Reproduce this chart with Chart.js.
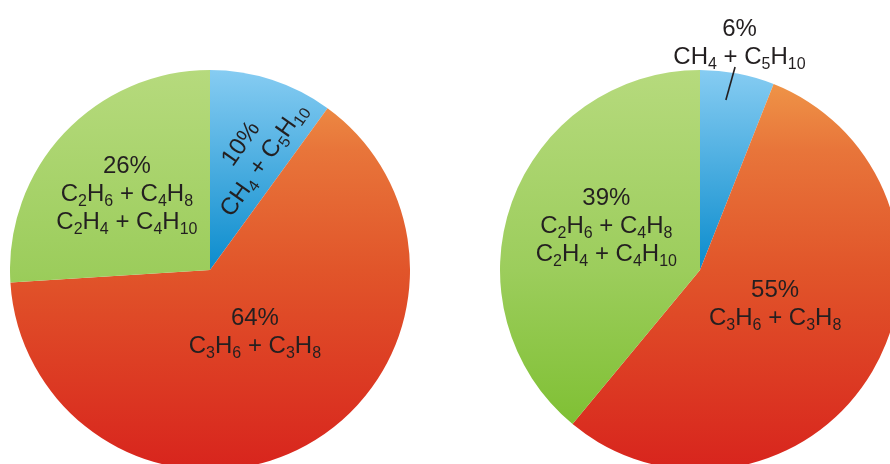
<!DOCTYPE html>
<html>
<head>
<meta charset="utf-8">
<script src="https://cdn.jsdelivr.net/npm/chart.js@4/dist/chart.umd.min.js"></script>
<style>
  html, body { margin: 0; padding: 0; background: #ffffff; }
  #stage { position: relative; width: 890px; height: 464px; overflow: hidden; background: #ffffff; }
  .pie { position: absolute; }
  #pieLeft { left: 10px; top: 70px; width: 400px; height: 400px; }
  #pieRight { left: 500px; top: 0px; width: 400px; height: 470px; }
</style>
</head>
<body>
<div id="stage">
  <div class="pie" id="pieLeft"><canvas id="cLeft" width="400" height="400"></canvas></div>
  <div class="pie" id="pieRight"><canvas id="cRight" width="400" height="470"></canvas></div>
</div>
<script>
// Fraction groups (slice order: clockwise from 12 o'clock)
const groupLines = [
  ['CH4 + C5H10'],
  ['C3H6 + C3H8'],
  ['C2H6 + C4H8', 'C2H4 + C4H10']
];
const leftShares = [10, 64, 26];
const rightShares = [6, 55, 39];

// Vertical gradient stops for each group
const gradientStops = [
  [[0, '#86ccf2'], [0.5, '#0b8ccd']],
  [[0, '#f09a4a'], [0.2, '#e8753a'], [0.5, '#e1552a'], [1, '#d8241d']],
  [[0, '#b6da7d'], [0.5, '#9ccd5c'], [1, '#77bc28']]
];

// Label placement: angle shift (deg) from slice mid-angle, distance as fraction of radius,
// rotation (deg), and optional leader line (inner/outer radius fractions).
const leftLabelPlacement = [
  { shift: 1, frac: 0.63, rotate: -55 },
  { shift: -8, frac: 0.375, rotate: 0 },
  { shift: 0, frac: 0.57, rotate: 0 }
];
const rightLabelPlacement = [
  { shift: -1, frac: 1.16, rotate: 0, leader: [0.86, 1.03] },
  { shift: -7, frac: 0.41, rotate: 0 },
  { shift: 6, frac: 0.52, rotate: 0 }
];

const FONT_FAMILY = '"Liberation Sans", Arial, sans-serif';
const MAIN_SIZE = 24;
const SUB_SIZE = 16;
const SUB_DROP = 5;
const LINE_GAP = 28;
const TEXT_COLOR = '#231f20';

// Split a formula line into runs; digits following a letter are subscripts.
function runsOf(text) {
  const runs = [];
  for (let i = 0; i < text.length; i++) {
    const ch = text[i];
    const isDigit = ch >= '0' && ch <= '9';
    let sub = false;
    if (isDigit) {
      let j = i - 1;
      while (j >= 0 && text[j] >= '0' && text[j] <= '9') j--;
      sub = j >= 0 && /[A-Za-z]/.test(text[j]);
    }
    const last = runs[runs.length - 1];
    if (last && last.sub === sub) last.t += ch; else runs.push({ t: ch, sub });
  }
  return runs;
}

function lineWidth(ctx, runs) {
  let w = 0;
  for (const r of runs) {
    ctx.font = (r.sub ? SUB_SIZE : MAIN_SIZE) + 'px ' + FONT_FAMILY;
    w += ctx.measureText(r.t).width;
  }
  return w;
}

function drawLine(ctx, text, cx, baseline) {
  const runs = runsOf(text);
  let x = cx - lineWidth(ctx, runs) / 2;
  for (const r of runs) {
    ctx.font = (r.sub ? SUB_SIZE : MAIN_SIZE) + 'px ' + FONT_FAMILY;
    ctx.fillText(r.t, x, baseline + (r.sub ? SUB_DROP : 0));
    x += ctx.measureText(r.t).width;
  }
}

// One vertical gradient per slice, spanning the full height of the pie
function sliceFill(context) {
  const index = context.dataIndex;
  const stops = gradientStops[index] || gradientStops[0];
  const chart = context.chart;
  const area = chart.chartArea;
  if (!area) return stops[0][1];
  const g = chart.ctx.createLinearGradient(0, area.top, 0, area.bottom);
  for (const [p, c] of stops) g.addColorStop(p, c);
  return g;
}

const sliceLabels = {
  id: 'sliceLabels',
  afterDatasetsDraw(chart, args, opts) {
    const ctx = chart.ctx;
    const meta = chart.getDatasetMeta(0);
    const values = chart.data.datasets[0].data;
    const placement = opts.placement;
    ctx.save();
    ctx.fillStyle = TEXT_COLOR;
    ctx.strokeStyle = TEXT_COLOR;
    ctx.textBaseline = 'alphabetic';
    meta.data.forEach((arc, i) => {
      const p = placement[i];
      const { x: cx, y: cy, startAngle, endAngle, outerRadius } = arc.getProps(['x', 'y', 'startAngle', 'endAngle', 'outerRadius'], true);
      const mid = (startAngle + endAngle) / 2 + p.shift * Math.PI / 180;
      const lx = cx + Math.cos(mid) * outerRadius * p.frac;
      const ly = cy + Math.sin(mid) * outerRadius * p.frac;
      const lines = [values[i] + '%'].concat(groupLines[i]);

      if (p.leader) {
        ctx.beginPath();
        ctx.lineWidth = 1.6;
        ctx.moveTo(cx + Math.cos(mid - 0.02) * outerRadius * p.leader[0], cy + Math.sin(mid - 0.02) * outerRadius * p.leader[0]);
        ctx.lineTo(cx + Math.cos(mid) * outerRadius * p.leader[1], cy + Math.sin(mid) * outerRadius * p.leader[1]);
        ctx.stroke();
      }

      ctx.save();
      ctx.translate(lx, ly);
      ctx.rotate(p.rotate * Math.PI / 180);
      const capHalf = MAIN_SIZE * 0.716 / 2;
      const firstCenter = -((lines.length - 1) * LINE_GAP) / 2;
      lines.forEach((t, k) => {
        drawLine(ctx, t, 0, firstCenter + k * LINE_GAP + capHalf);
      });
      ctx.restore();
    });
    ctx.restore();
  }
};

function makePie(canvasId, shares, placement, padding) {
  return new Chart(document.getElementById(canvasId), {
    type: 'pie',
    data: {
      labels: groupLines.map(l => l.join(' / ')),
      datasets: [{
        data: shares,
        backgroundColor: sliceFill,
        borderWidth: 0,
        hoverOffset: 0
      }]
    },
    options: {
      responsive: false,
      devicePixelRatio: 1,
      animation: false,
      events: [],
      layout: { padding },
      plugins: {
        legend: { display: false },
        tooltip: { enabled: false },
        sliceLabels: { placement }
      }
    },
    plugins: [sliceLabels]
  });
}

makePie('cLeft', leftShares, leftLabelPlacement, 0);
makePie('cRight', rightShares, rightLabelPlacement, { top: 70, left: 0, right: 0, bottom: 0 });
</script>
</body>
</html>
